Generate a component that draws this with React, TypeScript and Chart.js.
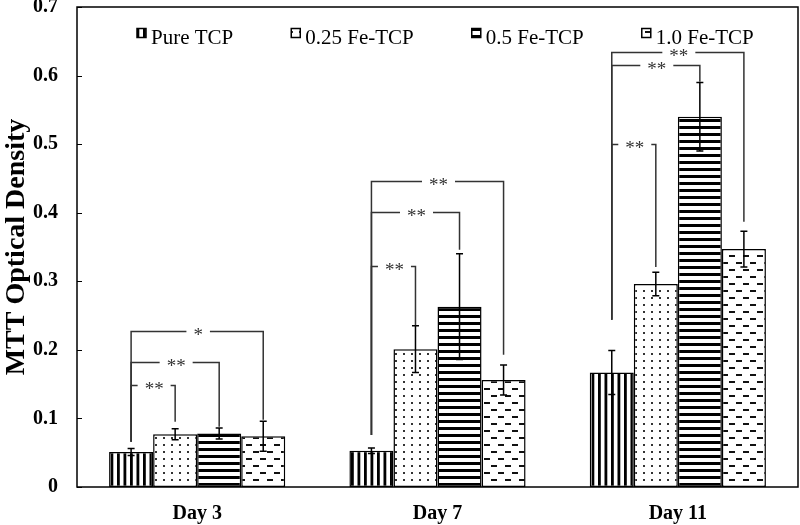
import React, { useEffect, useRef } from "react";
import { Chart, registerables } from "chart.js";

Chart.register(...registerables);

const FONT = "'Liberation Serif', 'Times New Roman', serif";

const categories = ["Day 3", "Day 7", "Day 11"];
const seriesNames = ["Pure TCP", "0.25 Fe-TCP", "0.5 Fe-TCP", "1.0 Fe-TCP"];

const pureTCP = [0.051, 0.053, 0.167];
const fe025 = [0.077, 0.201, 0.296];
const fe05 = [0.078, 0.263, 0.54];
const fe10 = [0.074, 0.156, 0.347];

const errPure = [0.005, 0.004, 0.032];
const err025 = [0.008, 0.034, 0.017];
const err05 = [0.008, 0.077, 0.05];
const err10 = [0.022, 0.022, 0.026];

const yMin = 0;
const yMax = 0.7;
const yStep = 0.1;

// significance brackets (from Pure TCP bar to target series within a day)
const bracketDay = [0, 0, 0, 1, 1, 1, 2, 2, 2];
const bracketTarget = [3, 2, 1, 3, 2, 1, 3, 2, 1];
const bracketLevel = [0.228, 0.183, 0.149, 0.446, 0.401, 0.322, 0.635, 0.615, 0.5];
const bracketLeftFrom = [0.066, 0.066, 0.066, 0.076, 0.076, 0.076, 0.244, 0.244, 0.244];
const bracketRightFrom = [0.098, 0.088, 0.095, 0.193, 0.346, 0.236, 0.387, 0.591, 0.321];
const bracketLabel = ["*", "**", "**", "**", "**", "**", "**", "**", "**"];

const seriesValues = [pureTCP, fe025, fe05, fe10];
const seriesErrors = [errPure, err025, err05, err10];

function makePattern(kind: number): CanvasPattern | string {
  const c = document.createElement("canvas");
  let w = 8;
  let h = 8;
  if (kind === 0) { w = 13; h = 4; }
  if (kind === 1) { w = 8; h = 7; }
  if (kind === 2) { w = 4; h = 7; }
  if (kind === 3) { w = 14; h = 14; }
  c.width = w;
  c.height = h;
  const g = c.getContext("2d");
  if (!g) return "#fff";
  g.fillStyle = "#fff";
  g.fillRect(0, 0, w, h);
  if (kind === 0) {
    g.fillStyle = "#000";
    g.fillRect(0, 0, 2.8, h);
    g.fillRect(6.5, 0, 2.8, h);
  } else if (kind === 1) {
    g.fillStyle = "#333";
    g.fillRect(3, 3, 2, 2);
  } else if (kind === 2) {
    g.fillStyle = "#000";
    g.fillRect(0, 0, w, 3);
  } else if (kind === 3) {
    g.fillStyle = "#111";
    g.fillRect(1, 3, 6, 2);
    g.fillRect(8, 10, 6, 2);
  }
  const p = g.createPattern(c, "repeat");
  return p || "#fff";
}

const framePlugin = {
  id: "frame",
  afterDraw(chart: any) {
    const { ctx, chartArea } = chart;
    const y = chart.scales.y;
    ctx.save();
    ctx.strokeStyle = "#000";
    ctx.lineWidth = 1.5;
    ctx.strokeRect(chartArea.left, chartArea.top, chartArea.right - chartArea.left, chartArea.bottom - chartArea.top);
    ctx.beginPath();
    y.ticks.forEach((t: any) => {
      const py = Math.round(y.getPixelForValue(t.value)) + 0.5;
      ctx.moveTo(chartArea.left, py);
      ctx.lineTo(chartArea.left + 5, py);
    });
    ctx.lineWidth = 1;
    ctx.stroke();
    ctx.restore();
  },
};

const errorBarPlugin = {
  id: "errorBars",
  afterDatasetsDraw(chart: any) {
    const ctx = chart.ctx;
    const y = chart.scales.y;
    ctx.save();
    ctx.strokeStyle = "#000";
    ctx.lineWidth = 1.5;
    chart.data.datasets.forEach((ds: any, di: number) => {
      const meta = chart.getDatasetMeta(di);
      meta.data.forEach((bar: any, i: number) => {
        const v = ds.data[i];
        const e = seriesErrors[di][i];
        const x = bar.x;
        const yt = y.getPixelForValue(v + e);
        const yb = y.getPixelForValue(v - e);
        ctx.beginPath();
        ctx.moveTo(x, yt);
        ctx.lineTo(x, yb);
        ctx.moveTo(x - 3.5, yt);
        ctx.lineTo(x + 3.5, yt);
        ctx.moveTo(x - 3.5, yb);
        ctx.lineTo(x + 3.5, yb);
        ctx.stroke();
      });
    });
    ctx.restore();
  },
};

const bracketPlugin = {
  id: "brackets",
  afterDraw(chart: any) {
    const ctx = chart.ctx;
    const y = chart.scales.y;
    ctx.save();
    ctx.font = `19px ${FONT}`;
    ctx.textAlign = "center";
    ctx.textBaseline = "middle";
    for (let k = 0; k < bracketDay.length; k++) {
      const d = bracketDay[k];
      const x1 = chart.getDatasetMeta(0).data[d].x;
      const x2 = chart.getDatasetMeta(bracketTarget[k]).data[d].x;
      const yl = Math.round(y.getPixelForValue(bracketLevel[k])) + 0.5;
      const yA = y.getPixelForValue(bracketLeftFrom[k]);
      const yB = y.getPixelForValue(bracketRightFrom[k]);
      const label = bracketLabel[k];
      const tw = ctx.measureText(label).width;
      const mid = (x1 + x2) / 2 + 1;
      const gap = tw / 2 + 7;
      ctx.strokeStyle = "#333";
      ctx.lineWidth = 1.5;
      ctx.beginPath();
      ctx.moveTo(x1, yA);
      ctx.lineTo(x1, yl);
      ctx.lineTo(mid - gap, yl);
      ctx.moveTo(mid + gap, yl);
      ctx.lineTo(x2, yl);
      ctx.lineTo(x2, yB);
      ctx.stroke();
      ctx.fillStyle = "#333";
      ctx.fillText(label, mid, yl + 5);
    }
    ctx.restore();
  },
};

const legendPlugin = {
  id: "customLegend",
  afterDraw(chart: any) {
    const ctx = chart.ctx;
    ctx.save();
    ctx.font = `21px ${FONT}`;
    ctx.textBaseline = "alphabetic";
    ctx.textAlign = "left";
    let x = 137;
    chart.data.datasets.forEach((ds: any) => {
      ctx.fillStyle = ds.backgroundColor;
      ctx.fillRect(x, 28.5, 9, 9);
      ctx.strokeStyle = "#000";
      ctx.lineWidth = 1.5;
      ctx.strokeRect(x, 28.5, 9, 9);
      ctx.fillStyle = "#000";
      ctx.fillText(ds.label, x + 14, 44);
      const w = ctx.measureText(ds.label).width;
      x += 14 + w + 58;
    });
    ctx.restore();
  },
};

export default function App() {
  const ref = useRef<HTMLCanvasElement | null>(null);

  useEffect(() => {
    document.body.style.margin = "0";
    const canvas = ref.current;
    if (!canvas) return;
    const datasets = seriesNames.map((name, i) => ({
      label: name,
      data: seriesValues[i],
      backgroundColor: makePattern(i) as any,
      borderColor: "#000",
      borderWidth: 1.5,
      borderSkipped: false as any,
      categoryPercentage: 0.733,
      barPercentage: 1.0,
    }));
    const chart = new Chart(canvas, {
      type: "bar",
      data: { labels: categories, datasets },
      options: {
        responsive: false,
        animation: false,
        layout: { padding: { top: 7, right: 2, left: 0, bottom: 0 } },
        plugins: {
          legend: { display: false },
          tooltip: { enabled: false },
        },
        scales: {
          x: {
            grid: { display: false },
            border: { display: false },
            ticks: {
              color: "#000",
              font: { family: FONT, size: 20, weight: "bold" },
              padding: 7,
              maxRotation: 0,
            },
            afterFit: (s: any) => {
              s.height = 38;
              s.paddingLeft = 0;
              s.paddingRight = 0;
            },
          },
          y: {
            min: yMin,
            max: yMax,
            grid: { display: false, drawTicks: false },
            border: { display: false },
            ticks: {
              stepSize: yStep,
              color: "#000",
              padding: 19,
              font: { family: FONT, size: 20, weight: "bold" },
              callback: (v: any) => Number(Number(v).toFixed(1)).toString(),
            },
            title: {
              display: true,
              text: "MTT Optical Density",
              color: "#000",
              font: { family: FONT, size: 28, weight: "bold" },
              padding: { top: 0, bottom: 0 },
            },
            afterFit: (s: any) => {
              s.width = 77;
              s.paddingTop = 0;
              s.paddingBottom = 0;
            },
          },
        },
      },
      plugins: [framePlugin, errorBarPlugin, bracketPlugin, legendPlugin],
    });
    return () => chart.destroy();
  }, []);

  return (
    <div style={{ width: 800, height: 525 }}>
      <canvas ref={ref} width={800} height={525} />
    </div>
  );
}
